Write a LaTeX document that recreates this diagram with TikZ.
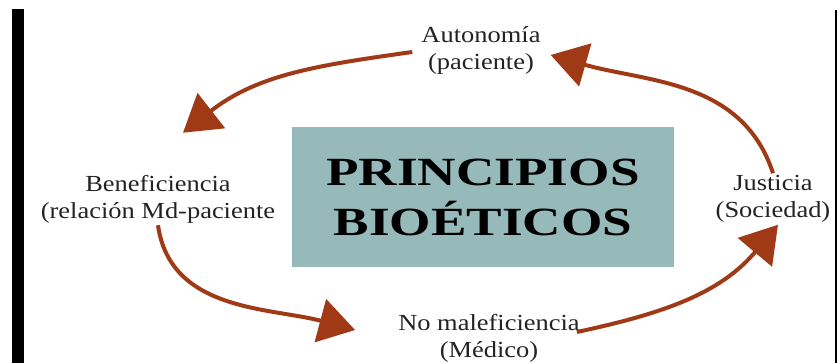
\documentclass[tikz,border=0pt]{standalone}
\usepackage{fontspec}
\setmainfont{Liberation Serif}[FakeStretch=1.15]
\newfontfamily\titlefont{Liberation Serif}[FakeStretch=1.33]
\usetikzlibrary{arrows.meta, positioning}
\definecolor{flecha}{RGB}{160,58,22}
\definecolor{caja}{RGB}{150,185,186}
\definecolor{texto}{RGB}{35,35,35}

\begin{document}
\begin{tikzpicture}[x=1pt, y=1pt,
  etiqueta/.style={align=center, inner sep=2pt, text=texto, font=\fontsize{23}{27}\selectfont},
  flechagrande/.style={draw=flecha, line width=4pt, -{Triangle[length=36pt,width=44pt,fill=flecha]}}]
\useasboundingbox (0,0) rectangle (839,363);
\fill [black] (12,0) rectangle (24,354);
\draw [black, line width=1.5pt] (836,0) -- (836,353);
\node [fill=caja, minimum width=382pt, minimum height=140pt, inner sep=0pt, align=center,
  font=\titlefont\bfseries\fontsize{40}{50}\selectfont] (titulo) at (483,166) {PRINCIPIOS\\BIOÉTICOS};
\node [etiqueta] (auto) at (481,313) {Autonomía\\(paciente)};
\node [etiqueta] (bene) at (158,164) {Beneficiencia\\(relación Md-paciente};
\node [etiqueta] (just) at (773,164) {Justicia\\(Sociedad)};
\node [etiqueta] (nomal) at (489,25) {No maleficiencia\\(Médico)};
\draw [flechagrande] ([shift={(-7,-2)}]auto.west) to[out=188, in=38] ([shift={(25,40)}]bene.north);
\draw [flechagrande] (bene.south) to[out=-82, in=165] ([shift={(-41,8)}]nomal.west);
\draw [flechagrande] ([shift={(-5,6)}]nomal.east) to[out=12, in=230] ([xshift=5]just.south);
\draw [flechagrande] (just.north) to[out=108, in=-16] ([shift={(8,-5)}]auto.east);
\end{tikzpicture}
\end{document}
